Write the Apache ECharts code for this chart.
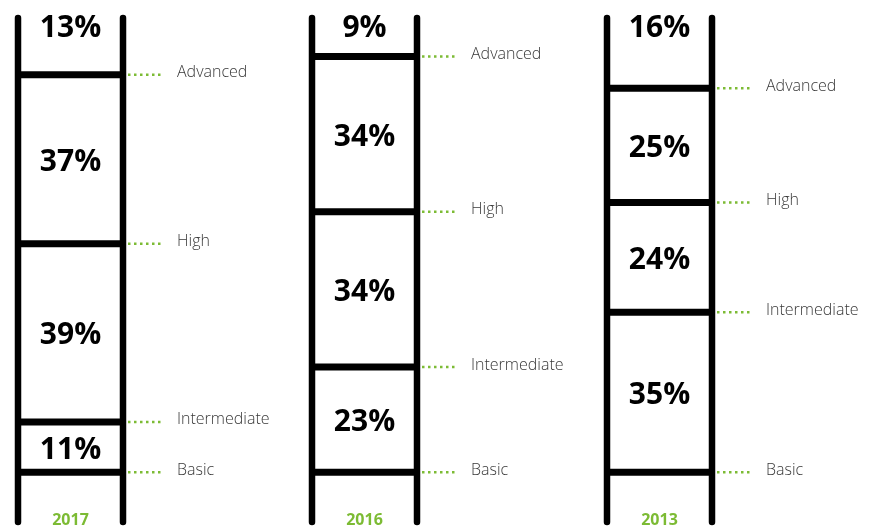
<!DOCTYPE html>
<html>
<head>
<meta charset="utf-8">
<script src="https://cdn.jsdelivr.net/npm/echarts@6/dist/echarts.min.js"></script>
<style>
  html, body { margin: 0; padding: 0; background: #fff; }
  #chart { width: 878px; height: 526px; }
</style>
</head>
<body>
<div id="chart"></div>
<script>
// Skill level shares per survey year, listed from the bottom rung upward
const years = ['2017', '2016', '2013'];
const levels = ['Basic', 'Intermediate', 'High', 'Advanced'];
const share2017 = [11, 39, 37, 13];
const share2016 = [23, 34, 34, 9];
const share2013 = [35, 24, 25, 16];
const shares = [share2017, share2016, share2013];

// Vertical extent of the ladders, in percentage points
const yMin = -10.9;
const yMax = 99.4;

const GREEN = '#7cbb34';
const FONT = '"Open Sans", "Noto Sans", sans-serif';

const chart = echarts.init(document.getElementById('chart'), null, { renderer: 'canvas' });

const gridLefts = [18, 312, 607];
const grids = gridLefts.map(l => ({ left: l, width: 105, top: 18, bottom: 4 }));
const xAxes = grids.map((g, i) => ({ type: 'value', gridIndex: i, min: 0, max: 1, show: false }));
const yAxes = grids.map((g, i) => ({ type: 'value', gridIndex: i, min: yMin, max: yMax, show: false }));

// Rails: the two uprights of each ladder
function railSeries(idx) {
  return {
    type: 'custom',
    xAxisIndex: idx,
    yAxisIndex: idx,
    clip: false,
    silent: true,
    data: [[0], [1]],
    renderItem: function (params, api) {
      const top = api.coord([api.value(0), yMax]);
      const bot = api.coord([api.value(0), yMin]);
      return {
        type: 'line',
        shape: { x1: top[0], y1: top[1], x2: bot[0], y2: bot[1] },
        style: { stroke: '#000', lineWidth: 6.5, lineCap: 'round' }
      };
    }
  };
}

// Rungs, level labels and share labels
function rungSeries(idx) {
  const s = shares[idx];
  const rows = [];
  let acc = 0;
  s.forEach((v, i) => {
    rows.push([acc, acc + v, v, i]);
    acc += v;
  });
  return {
    type: 'custom',
    xAxisIndex: idx,
    yAxisIndex: idx,
    clip: false,
    silent: true,
    data: rows,
    renderItem: function (params, api) {
      const start = api.value(0);
      const end = api.value(1);
      const val = api.value(2);
      const li = api.value(3);
      const pL = api.coord([0, start]);
      const pR = api.coord([1, start]);
      const isTop = li === levels.length - 1;
      const labelY = isTop ? api.coord([0, yMax])[1] + 10 : (api.coord([0, start])[1] + api.coord([0, end])[1]) / 2 + 3;
      return {
        type: 'group',
        children: [
          {
            type: 'line',
            shape: { x1: pL[0], y1: pL[1], x2: pR[0], y2: pR[1] },
            style: { stroke: '#000', lineWidth: 7 }
          },
          {
            type: 'line',
            shape: { x1: pR[0] + 5, y1: pR[1], x2: pR[0] + 41, y2: pR[1] },
            style: { stroke: GREEN, lineWidth: 2.5, lineDash: [2.5, 3.5] }
          },
          {
            type: 'text',
            style: {
              text: levels[li],
              x: pR[0] + 54,
              y: pR[1] - 2,
              fill: '#383838',
              font: '300 16px ' + FONT,
              textAlign: 'left',
              textVerticalAlign: 'middle'
            }
          },
          {
            type: 'text',
            style: {
              text: val + '%',
              x: (pL[0] + pR[0]) / 2,
              y: labelY,
              fill: '#000',
              font: 'bold 30px ' + FONT,
              textAlign: 'center',
              textVerticalAlign: 'middle'
            }
          }
        ]
      };
    }
  };
}

// Year caption under each ladder
function yearSeries(idx) {
  return {
    type: 'custom',
    xAxisIndex: idx,
    yAxisIndex: idx,
    clip: false,
    silent: true,
    data: [[0.5, yMin]],
    renderItem: function (params, api) {
      const p = api.coord([api.value(0), api.value(1)]);
      return {
        type: 'text',
        style: {
          text: years[idx],
          x: p[0],
          y: p[1] - 2,
          fill: GREEN,
          font: 'bold 16px ' + FONT,
          textAlign: 'center',
          textVerticalAlign: 'middle'
        }
      };
    }
  };
}

const series = [];
years.forEach((y, i) => {
  series.push(railSeries(i), rungSeries(i), yearSeries(i));
});

chart.setOption({
  animation: false,
  backgroundColor: '#fff',
  grid: grids,
  xAxis: xAxes,
  yAxis: yAxes,
  series: series
});
</script>
</body>
</html>
